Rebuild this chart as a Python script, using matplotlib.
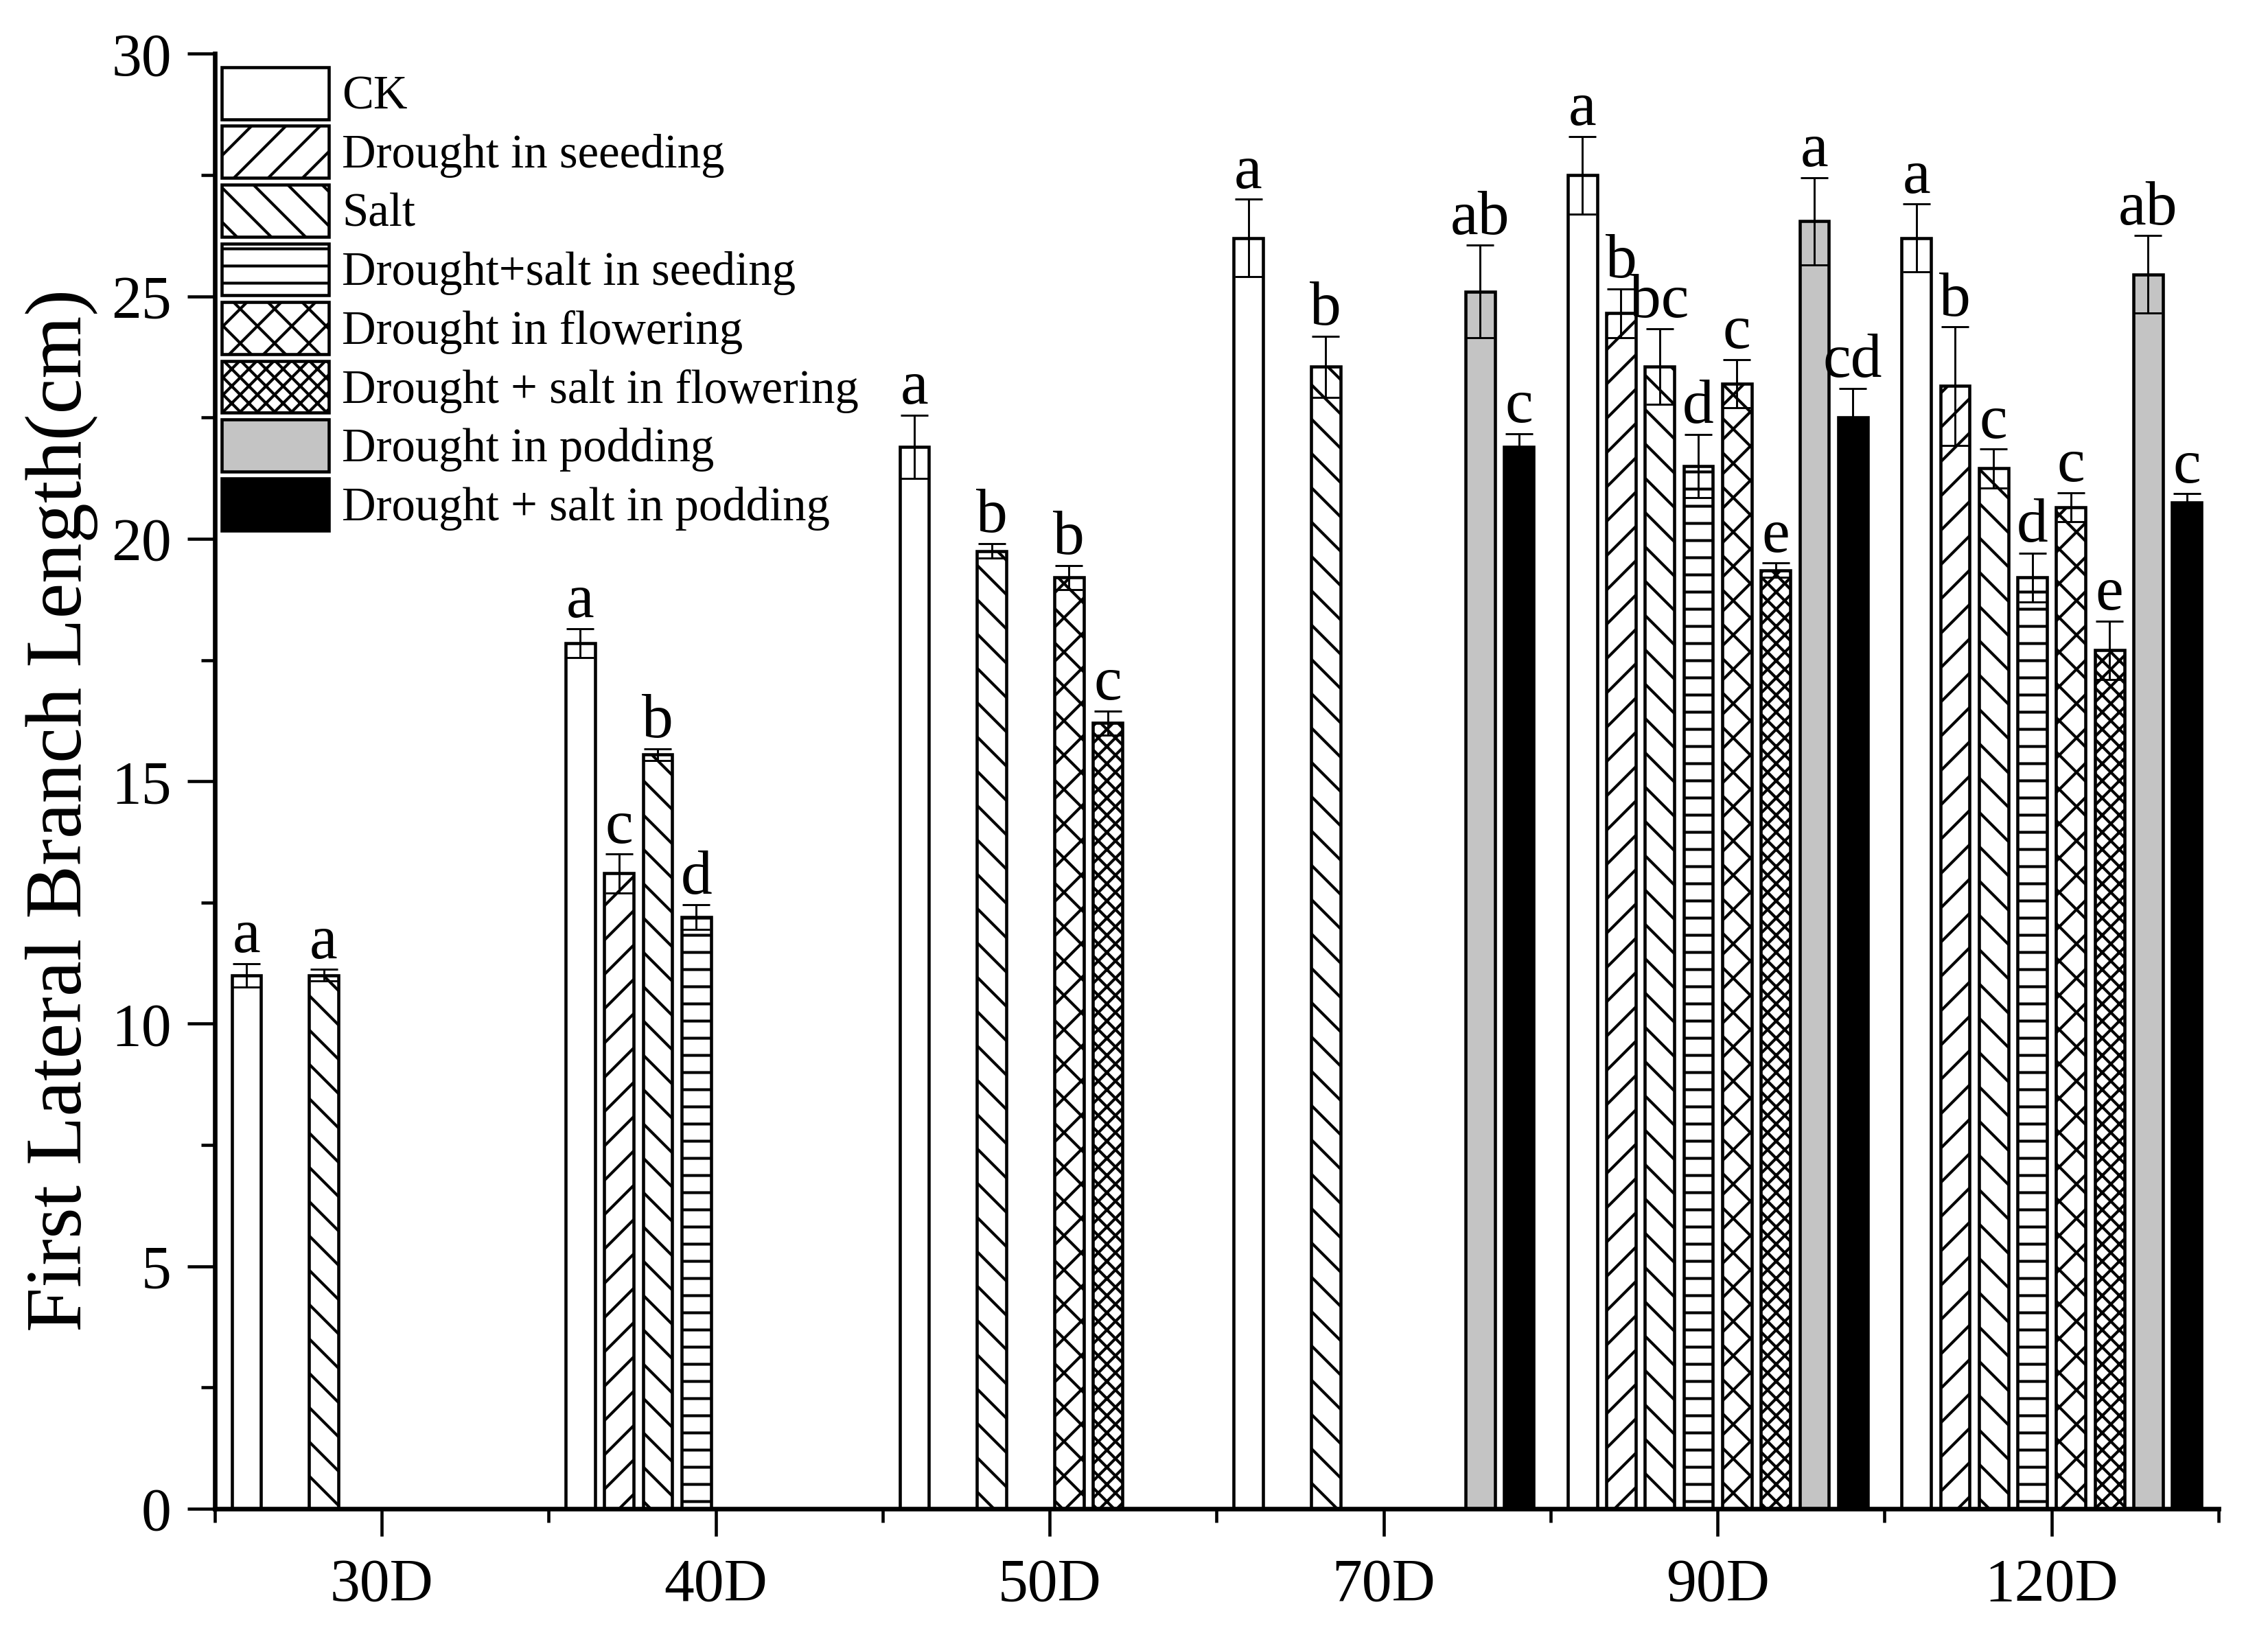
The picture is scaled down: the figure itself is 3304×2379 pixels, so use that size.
import numpy as np
import matplotlib
matplotlib.use('Agg')
import matplotlib.pyplot as plt
from matplotlib.ticker import MultipleLocator

plt.rcParams['font.family'] = ['Liberation Serif', 'DejaVu Serif']
plt.rcParams['hatch.linewidth'] = 1.0

nan = np.nan
days = ['30D', '40D', '50D', '70D', '90D', '120D']

names = ['CK', 'Drought in seeeding', 'Salt', 'Drought+salt in seeding',
         'Drought in flowering', 'Drought + salt in flowering',
         'Drought in podding', 'Drought + salt in podding']

ck = [11.0, 17.85, 21.9, 26.2, 27.5, 26.2]
ck_err = [0.24, 0.3, 0.65, 0.8, 0.8, 0.7]
ck_sig = ['a', 'a', 'a', 'a', 'a', 'a']

dr_seed = [nan, 13.1, nan, nan, 24.65, 23.15]
dr_seed_err = [nan, 0.4, nan, nan, 0.5, 1.22]
dr_seed_sig = ['', 'c', '', '', 'b', 'b']

salt = [11.0, 15.55, 19.75, 23.55, 23.55, 21.45]
salt_err = [0.12, 0.12, 0.15, 0.63, 0.78, 0.4]
salt_sig = ['a', 'b', 'b', 'b', 'bc', 'c']

ds_seed = [nan, 12.2, nan, nan, 21.5, 19.2]
ds_seed_err = [nan, 0.25, nan, nan, 0.65, 0.5]
ds_seed_sig = ['', 'd', '', '', 'd', 'd']

dr_flow = [nan, nan, 19.2, nan, 23.2, 20.65]
dr_flow_err = [nan, nan, 0.25, nan, 0.5, 0.3]
dr_flow_sig = ['', '', 'b', '', 'c', 'c']

ds_flow = [nan, nan, 16.2, nan, 19.35, 17.7]
ds_flow_err = [nan, nan, 0.25, nan, 0.15, 0.6]
ds_flow_sig = ['', '', 'c', '', 'e', 'e']

dr_pod = [nan, nan, nan, 25.1, 26.55, 25.45]
dr_pod_err = [nan, nan, nan, 0.95, 0.9, 0.8]
dr_pod_sig = ['', '', '', 'ab', 'a', 'ab']

ds_pod = [nan, nan, nan, 21.9, 22.5, 20.75]
ds_pod_err = [nan, nan, nan, 0.27, 0.6, 0.18]
ds_pod_sig = ['', '', '', 'c', 'cd', 'c']

series = [(ck, ck_err, ck_sig), (dr_seed, dr_seed_err, dr_seed_sig),
          (salt, salt_err, salt_sig), (ds_seed, ds_seed_err, ds_seed_sig),
          (dr_flow, dr_flow_err, dr_flow_sig), (ds_flow, ds_flow_err, ds_flow_sig),
          (dr_pod, dr_pod_err, dr_pod_sig), (ds_pod, ds_pod_err, ds_pod_sig)]
hatches = [None, '//', '\\\\', '--', 'xx', 'xxxx', None, None]
colors = ['white', 'white', 'white', 'white', 'white', 'white', '#c4c4c4', 'black']

fig = plt.figure(figsize=(3304/300, 2379/300), dpi=300)
ax = fig.add_axes([0.09464, 0.07608, 0.88357, 0.89096])

slot = 0.1157
width = 0.088
for i, (vals, errs, sig) in enumerate(series):
    vals = np.array(vals)
    errs = np.array(errs)
    ok = ~np.isnan(vals)
    x = np.arange(len(days))[ok] + (i - 3.5) * slot
    ax.bar(x, vals[ok], width=width, color=colors[i], edgecolor='black',
           linewidth=1.1, hatch=hatches[i], label=names[i], zorder=2)
    ax.errorbar(x, vals[ok], yerr=errs[ok], fmt='none', ecolor='black',
                elinewidth=0.7, capsize=4.8, capthick=0.7, zorder=3)
    for xx, v, e, s in zip(x, vals[ok], errs[ok], np.array(sig)[ok]):
        ax.annotate(s, (xx, v + e), xytext=(0, 4), textcoords='offset points',
                    ha='center', va='baseline', fontsize=22)

ax.set_xlim(-0.5, 5.5)
ax.set_ylim(0, 30)
ax.set_xticks(range(len(days)))
ax.set_xticklabels(days)
ax.xaxis.set_minor_locator(MultipleLocator(1, offset=0.5))
ax.yaxis.set_major_locator(MultipleLocator(5))
ax.yaxis.set_minor_locator(MultipleLocator(2.5))

ax.tick_params(which='major', length=9.6, width=1.1, direction='out', labelsize=21)
ax.tick_params(which='minor', length=4.8, width=1.1, direction='out')
ax.tick_params(axis='x', which='major', pad=7.5)
ax.tick_params(axis='y', which='major', pad=5.5)

for sp in ['top', 'right']:
    ax.spines[sp].set_visible(False)
for sp in ['left', 'bottom']:
    ax.spines[sp].set_linewidth(1.6)

ax.set_ylabel('First Lateral Branch Length(cm)', fontsize=28)
ax.yaxis.set_label_coords(-0.0581, 0.480)

ax.legend(loc='upper left', bbox_to_anchor=(0.0035, 0.9908), frameon=False,
          fontsize=16.5, handlelength=2.27, handleheight=1.32, handletextpad=0.28,
          labelspacing=0.14, borderpad=0, borderaxespad=0)

plt.savefig('out.png', dpi=300)
